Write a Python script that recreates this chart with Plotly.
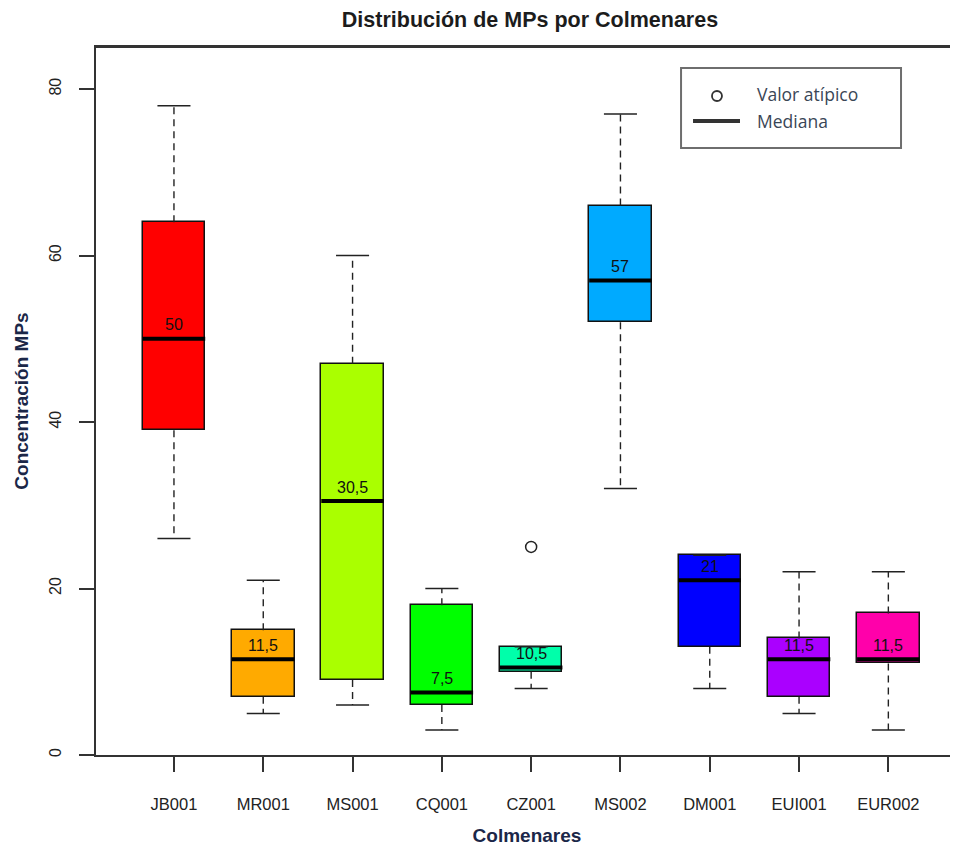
import plotly.graph_objects as go

# ---- data ----
categories = ["JB001", "MR001", "MS001", "CQ001", "CZ001", "MS002", "DM001", "EUI001", "EUR002"]
lower_whisker = [26, 5, 6, 3, 8, 32, 8, 5, 3]
q1 = [39, 7, 9, 6, 10, 52, 13, 7, 11]
median = [50, 11.5, 30.5, 7.5, 10.5, 57, 21, 11.5, 11.5]
q3 = [64, 15, 47, 18, 13, 66, 24, 14, 17]
upper_whisker = [78, 21, 60, 20, 13, 77, 24, 22, 22]
outlier_cat = ["CZ001"]
outlier_val = [25]
box_colors = ["#FF0000", "#FFAA00", "#AAFF00", "#00FF00", "#00FFAA",
              "#00AAFF", "#0000FF", "#AA00FF", "#FF00AA"]
y_ticks = [0, 20, 40, 60, 80]

pos = list(range(1, len(categories) + 1))
half_box = 0.35
half_cap = 0.185

fig = go.Figure()

# boxes
fig.add_trace(go.Bar(
    x=pos, base=q1, y=[b - a for a, b in zip(q1, q3)], width=2 * half_box,
    marker=dict(color=box_colors, line=dict(color="#111", width=1.5)),
    showlegend=False, hoverinfo="skip"))

# whiskers (dashed)
wx, wy = [], []
for p, lo, a, b, hi in zip(pos, lower_whisker, q1, q3, upper_whisker):
    if hi > b:
        wx += [p, p, None]; wy += [b, hi, None]
    if lo < a:
        wx += [p, p, None]; wy += [a, lo, None]
fig.add_trace(go.Scatter(x=wx, y=wy, mode="lines",
                         line=dict(color="#222", width=1.4, dash="7px,5px"),
                         showlegend=False, hoverinfo="skip"))

# caps
cx, cy = [], []
for p, lo, hi in zip(pos, lower_whisker, upper_whisker):
    cx += [p - half_cap, p + half_cap, None, p - half_cap, p + half_cap, None]
    cy += [hi, hi, None, lo, lo, None]
fig.add_trace(go.Scatter(x=cx, y=cy, mode="lines",
                         line=dict(color="#222", width=1.5),
                         showlegend=False, hoverinfo="skip"))

# medians
mx, my = [], []
for p, m in zip(pos, median):
    mx += [p - half_box, p + half_box, None]
    my += [m, m, None]
fig.add_trace(go.Scatter(x=mx, y=my, mode="lines",
                         line=dict(color="black", width=4),
                         showlegend=False, hoverinfo="skip"))

# outliers
fig.add_trace(go.Scatter(x=[pos[categories.index(c)] for c in outlier_cat], y=outlier_val,
                         mode="markers",
                         marker=dict(symbol="circle-open", size=11, color="#222",
                                     line=dict(width=1.5, color="#222")),
                         showlegend=False, hoverinfo="skip"))

# median labels
for p, m in zip(pos, median):
    fig.add_annotation(x=p, y=m, text=f"{m:g}".replace(".", ","), showarrow=False,
                       yanchor="middle", yshift=14,
                       font=dict(family="Liberation Sans, Arial", size=16, color="#111"))

# manual legend
fig.add_shape(type="rect", xref="paper", yref="paper",
              x0=0.6787, x1=0.9339, y0=0.8573, y1=0.9703,
              line=dict(color="#6e6e6e", width=2), fillcolor="white")
fig.add_shape(type="circle", xref="paper", yref="paper",
              xsizemode="pixel", ysizemode="pixel",
              xanchor=0.7204, yanchor=0.9308, x0=-5, x1=5, y0=-5, y1=5,
              line=dict(color="#333", width=1.8))
fig.add_shape(type="line", xref="paper", yref="paper",
              x0=0.6926, x1=0.7471, y0=0.8955, y1=0.8955,
              line=dict(color="#333", width=4))
for txt, yy in [("Valor atípico", 0.9336), ("Mediana", 0.8955)]:
    fig.add_annotation(xref="paper", yref="paper", x=0.7645, y=yy, text=txt,
                       showarrow=False, xanchor="left", yanchor="middle",
                       font=dict(family="Open Sans, Noto Sans", size=17.5, color="#3a4656"))

# page body has an 8px margin: figure is placed at (8, 8)
fig.update_layout(
    width=950, height=838,
    margin=dict(l=88, r=0, t=39, b=91),
    paper_bgcolor="white", plot_bgcolor="white",
    title=dict(text="<b>Distribución de MPs por Colmenares</b>",
               x=522 / 950, xanchor="center", y=1 - 11 / 838, yanchor="middle",
               font=dict(family="Liberation Sans, Arial", size=21.5, color="#1c1c1c")),
    font=dict(family="Liberation Sans, Arial", color="#222"),
    bargap=0,
)
fig.update_xaxes(
    range=[0.127, 9.78], tickmode="array", tickvals=pos, ticktext=categories,
    showgrid=False, zeroline=False,
    showline=True, linecolor="#333", linewidth=2, mirror=True,
    ticks="outside", ticklen=15, tickwidth=1.5, tickcolor="#333",
    ticklabelstandoff=18,
    tickfont=dict(family="Liberation Sans, Arial", size=16.5, color="#222"),
    title=dict(text="<b>Colmenares</b>", standoff=17,
               font=dict(family="Liberation Sans, Arial", size=19, color="#1b2748")),
)
fig.update_yaxes(
    range=[0, 85.05], tickmode="array", tickvals=y_ticks,
    showgrid=False, zeroline=False,
    showline=True, linecolor="#333", linewidth=2, mirror=False,
    ticks="outside", ticklen=15, tickwidth=1.5, tickcolor="#333",
    tickangle=-90, ticklabelstandoff=12,
    tickfont=dict(family="Liberation Sans, Arial", size=16, color="#222"),
    title=dict(text="<b>Concentración MPs</b>", standoff=13,
               font=dict(family="Liberation Sans, Arial", size=19, color="#1b2748")),
)
# top frame line
fig.add_shape(type="line", xref="paper", yref="paper", x0=0, x1=1, y0=1, y1=1,
              line=dict(color="#333", width=2))

fig.write_html("out.html")
